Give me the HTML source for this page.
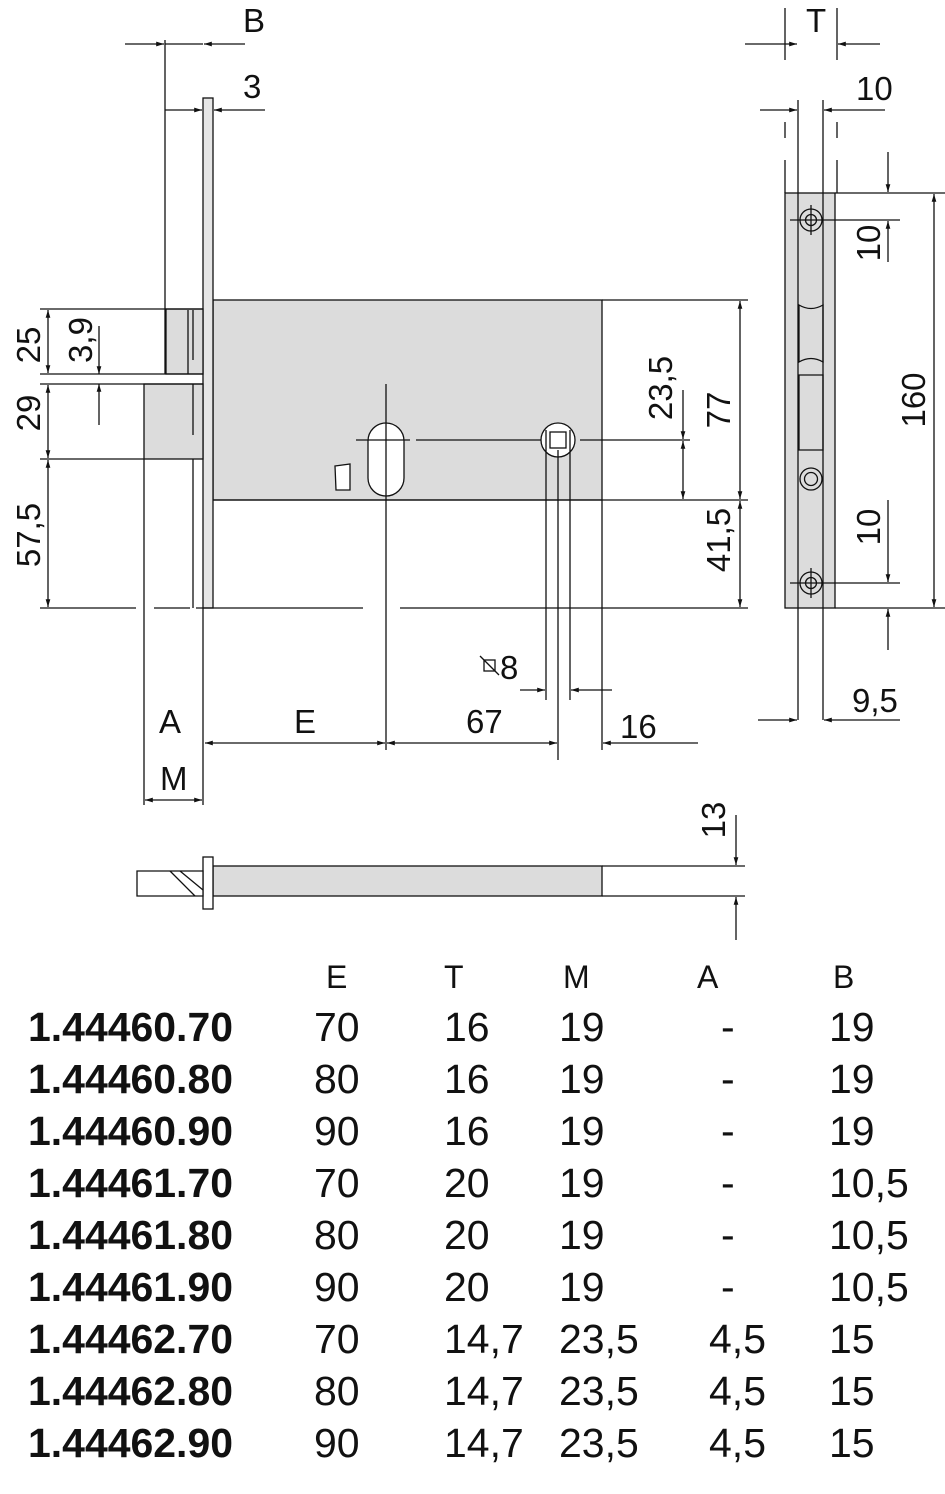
<!DOCTYPE html>
<html><head><meta charset="utf-8"><style>
body{margin:0;background:#fff;width:945px;height:1494px;overflow:hidden}
svg{display:block}
.t{font-family:"Liberation Sans",sans-serif;fill:#111}
</style></head><body>
<svg width="945" height="1494" viewBox="0 0 945 1494" xmlns="http://www.w3.org/2000/svg">
<defs><marker id="a" viewBox="0 0 10 10" refX="10" refY="5" markerWidth="9" markerHeight="6" orient="auto-start-reverse"><path d="M0,2 L10,5 L0,8z" fill="#111"/></marker></defs>
<g stroke="#111" stroke-width="1.3" fill="none">
<rect x="213" y="300" width="389" height="200" fill="#dcdcdc"/>
<rect x="203" y="98" width="10" height="510" fill="#e6e6e6"/>
<rect x="166" y="309" width="37" height="65" fill="#dcdcdc"/>
<rect x="144" y="384" width="59" height="75" fill="#dcdcdc"/>
<line x1="165" y1="40" x2="165" y2="374"/>
<line x1="193" y1="310" x2="193" y2="360"/><line x1="188" y1="310" x2="188" y2="374"/>
<line x1="193" y1="384" x2="193" y2="435"/><line x1="193" y1="459" x2="193" y2="608"/>
<line x1="144" y1="459" x2="144" y2="805"/><line x1="203" y1="608" x2="203" y2="805"/>
<rect x="368" y="423" width="36" height="73" rx="18" fill="#fff"/>
<line x1="386" y1="384" x2="386" y2="750"/><line x1="356" y1="440" x2="410" y2="440"/><line x1="416" y1="440" x2="545" y2="440"/>
<path d="M335,466 L350,464 L350,490 L336,490 Z" fill="#fff"/>
<circle cx="558" cy="440" r="17" fill="#fff"/><rect x="550" y="432" width="16" height="16"/>
<line x1="546" y1="430" x2="546" y2="700"/><line x1="570" y1="430" x2="570" y2="700"/>
<line x1="558" y1="450" x2="558" y2="760"/>
<line x1="580" y1="440" x2="690" y2="440"/>
<line x1="602" y1="500" x2="602" y2="750"/>
<line x1="213" y1="500" x2="748" y2="500"/><line x1="602" y1="300" x2="748" y2="300"/>
<line x1="40" y1="608" x2="136" y2="608"/><line x1="154" y1="608" x2="190" y2="608"/><line x1="196" y1="608" x2="363" y2="608"/><line x1="400" y1="608" x2="748" y2="608"/>
<line x1="40" y1="309" x2="203" y2="309"/><line x1="40" y1="374" x2="203" y2="374"/><line x1="40" y1="384" x2="203" y2="384"/><line x1="40" y1="459" x2="144" y2="459"/>
<line x1="48" y1="310" x2="48" y2="373" marker-start="url(#a)" marker-end="url(#a)"/>
<line x1="48" y1="385" x2="48" y2="458" marker-start="url(#a)" marker-end="url(#a)"/>
<line x1="48" y1="460" x2="48" y2="607" marker-start="url(#a)" marker-end="url(#a)"/>
<line x1="99" y1="326" x2="99" y2="374" marker-end="url(#a)"/><line x1="99" y1="425" x2="99" y2="384" marker-end="url(#a)"/>
<line x1="125" y1="44" x2="164" y2="44" marker-end="url(#a)"/><line x1="245" y1="44" x2="204" y2="44" marker-end="url(#a)"/><line x1="165" y1="44" x2="203" y2="44"/>
<line x1="165" y1="110" x2="202" y2="110" marker-end="url(#a)"/><line x1="265" y1="110" x2="214" y2="110" marker-end="url(#a)"/>
<line x1="740" y1="301" x2="740" y2="499" marker-start="url(#a)" marker-end="url(#a)"/>
<line x1="740" y1="501" x2="740" y2="607" marker-start="url(#a)" marker-end="url(#a)"/>
<line x1="683" y1="390" x2="683" y2="439" marker-end="url(#a)"/><line x1="683" y1="441" x2="683" y2="499" marker-start="url(#a)" marker-end="url(#a)"/>
<line x1="205" y1="743" x2="385" y2="743" marker-start="url(#a)" marker-end="url(#a)"/>
<line x1="387" y1="743" x2="557" y2="743" marker-start="url(#a)" marker-end="url(#a)"/>
<line x1="603" y1="743" x2="698" y2="743" marker-start="url(#a)"/>
<line x1="145" y1="800" x2="202" y2="800" marker-start="url(#a)" marker-end="url(#a)"/>
<line x1="520" y1="690" x2="545" y2="690" marker-end="url(#a)"/><line x1="612" y1="690" x2="571" y2="690" marker-end="url(#a)"/>
<rect x="484" y="660" width="11" height="11"/><line x1="480" y1="656" x2="499" y2="675"/>
<rect x="785" y="193" width="50" height="415" fill="#dcdcdc"/>
<line x1="798" y1="100" x2="798" y2="720"/><line x1="823" y1="100" x2="823" y2="720"/>
<line x1="785" y1="122" x2="785" y2="138"/><line x1="785" y1="160" x2="785" y2="193"/>
<line x1="837" y1="122" x2="837" y2="138"/><line x1="837" y1="160" x2="837" y2="193"/>
<line x1="835" y1="193" x2="945" y2="193"/><line x1="835" y1="608" x2="945" y2="608"/>
<circle cx="811" cy="220" r="11" fill="#dcdcdc"/><circle cx="811" cy="220" r="5.5"/>
<circle cx="811" cy="479" r="11" fill="#dcdcdc"/><circle cx="811" cy="479" r="6.5"/>
<circle cx="811" cy="583" r="11" fill="#dcdcdc"/><circle cx="811" cy="583" r="5.5"/>
<line x1="790" y1="220" x2="900" y2="220"/><line x1="790" y1="583" x2="900" y2="583"/>
<line x1="811" y1="205" x2="811" y2="235"/><line x1="811" y1="568" x2="811" y2="598"/>
<path d="M799,305 Q811,312 823,305 L823,362 Q811,355 799,362 Z"/>
<path d="M799,375 L823,375 L823,450 L799,450 Z"/>
<line x1="888" y1="152" x2="888" y2="192" marker-end="url(#a)"/><line x1="888" y1="262" x2="888" y2="221" marker-end="url(#a)"/>
<line x1="888" y1="500" x2="888" y2="582" marker-end="url(#a)"/><line x1="888" y1="650" x2="888" y2="609" marker-end="url(#a)"/>
<line x1="934" y1="194" x2="934" y2="607" marker-start="url(#a)" marker-end="url(#a)"/>
<line x1="745" y1="44" x2="797" y2="44" marker-end="url(#a)"/><line x1="880" y1="44" x2="838" y2="44" marker-end="url(#a)"/>
<line x1="785" y1="8" x2="785" y2="60"/><line x1="837" y1="8" x2="837" y2="60"/>
<line x1="760" y1="110" x2="797" y2="110" marker-end="url(#a)"/><line x1="885" y1="110" x2="824" y2="110" marker-end="url(#a)"/>
<line x1="758" y1="720" x2="797" y2="720" marker-end="url(#a)"/><line x1="900" y1="720" x2="824" y2="720" marker-end="url(#a)"/>
<rect x="213" y="866" width="389" height="30" fill="#dcdcdc"/>
<line x1="602" y1="866" x2="745" y2="866"/><line x1="602" y1="896" x2="745" y2="896"/>
<rect x="203" y="857" width="10" height="52" fill="#fff"/>
<path d="M137,871 L203,871 L203,896 L137,896 Z" fill="#fff"/><line x1="170" y1="871" x2="195" y2="896"/><line x1="180" y1="871" x2="203" y2="890"/>
<line x1="736" y1="815" x2="736" y2="865" marker-end="url(#a)"/><line x1="736" y1="940" x2="736" y2="897" marker-end="url(#a)"/>
</g>
<g class="t" font-size="33">
<text x="243" y="32">B</text><text x="243" y="98">3</text>
<text x="806" y="32">T</text><text x="856" y="100">10</text>
<text x="159" y="733">A</text><text x="294" y="733">E</text><text x="466" y="733">67</text><text x="620" y="738">16</text>
<text x="160" y="790">M</text><text x="500" y="679">8</text><text x="852" y="712">9,5</text>
<text transform="translate(40,345) rotate(-90)" text-anchor="middle">25</text>
<text transform="translate(92,340) rotate(-90)" text-anchor="middle">3,9</text>
<text transform="translate(40,413) rotate(-90)" text-anchor="middle">29</text>
<text transform="translate(40,535) rotate(-90)" text-anchor="middle">57,5</text>
<text transform="translate(672,388) rotate(-90)" text-anchor="middle">23,5</text>
<text transform="translate(730,410) rotate(-90)" text-anchor="middle">77</text>
<text transform="translate(730,540) rotate(-90)" text-anchor="middle">41,5</text>
<text transform="translate(880,243) rotate(-90)" text-anchor="middle">10</text>
<text transform="translate(880,527) rotate(-90)" text-anchor="middle">10</text>
<text transform="translate(925,400) rotate(-90)" text-anchor="middle">160</text>
<text transform="translate(725,820) rotate(-90)" text-anchor="middle">13</text>
</g>
<g class="t" font-size="32"><text x="326" y="988">E</text><text x="444" y="988">T</text><text x="563" y="988">M</text><text x="697" y="988">A</text><text x="833" y="988">B</text></g>
<g class="t" font-size="41">
<g font-weight="bold" font-size="41">
<text x="28" y="1041" textLength="205" lengthAdjust="spacingAndGlyphs">1.44460.70</text>
<text x="28" y="1093" textLength="205" lengthAdjust="spacingAndGlyphs">1.44460.80</text>
<text x="28" y="1145" textLength="205" lengthAdjust="spacingAndGlyphs">1.44460.90</text>
<text x="28" y="1197" textLength="205" lengthAdjust="spacingAndGlyphs">1.44461.70</text>
<text x="28" y="1249" textLength="205" lengthAdjust="spacingAndGlyphs">1.44461.80</text>
<text x="28" y="1301" textLength="205" lengthAdjust="spacingAndGlyphs">1.44461.90</text>
<text x="28" y="1353" textLength="205" lengthAdjust="spacingAndGlyphs">1.44462.70</text>
<text x="28" y="1405" textLength="205" lengthAdjust="spacingAndGlyphs">1.44462.80</text>
<text x="28" y="1457" textLength="205" lengthAdjust="spacingAndGlyphs">1.44462.90</text>
</g>
<text x="314" y="1041">70</text><text x="444" y="1041">16</text><text x="559" y="1041">19</text><text x="721" y="1041">-</text><text x="829" y="1041">19</text>
<text x="314" y="1093">80</text><text x="444" y="1093">16</text><text x="559" y="1093">19</text><text x="721" y="1093">-</text><text x="829" y="1093">19</text>
<text x="314" y="1145">90</text><text x="444" y="1145">16</text><text x="559" y="1145">19</text><text x="721" y="1145">-</text><text x="829" y="1145">19</text>
<text x="314" y="1197">70</text><text x="444" y="1197">20</text><text x="559" y="1197">19</text><text x="721" y="1197">-</text><text x="829" y="1197">10,5</text>
<text x="314" y="1249">80</text><text x="444" y="1249">20</text><text x="559" y="1249">19</text><text x="721" y="1249">-</text><text x="829" y="1249">10,5</text>
<text x="314" y="1301">90</text><text x="444" y="1301">20</text><text x="559" y="1301">19</text><text x="721" y="1301">-</text><text x="829" y="1301">10,5</text>
<text x="314" y="1353">70</text><text x="444" y="1353">14,7</text><text x="559" y="1353">23,5</text><text x="709" y="1353">4,5</text><text x="829" y="1353">15</text>
<text x="314" y="1405">80</text><text x="444" y="1405">14,7</text><text x="559" y="1405">23,5</text><text x="709" y="1405">4,5</text><text x="829" y="1405">15</text>
<text x="314" y="1457">90</text><text x="444" y="1457">14,7</text><text x="559" y="1457">23,5</text><text x="709" y="1457">4,5</text><text x="829" y="1457">15</text>
</g>
</svg>
</body></html>
